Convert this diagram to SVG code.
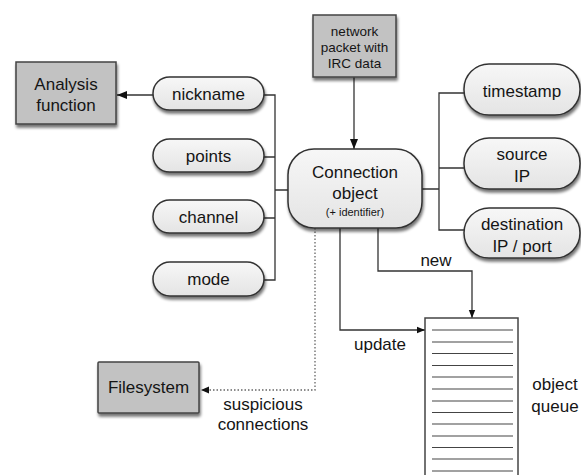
<svg xmlns="http://www.w3.org/2000/svg" width="581" height="475" viewBox="0 0 581 475">
<defs>
<linearGradient id="pillg" x1="0" y1="0" x2="0" y2="1">
<stop offset="0" stop-color="#f7f7f7"/>
<stop offset="1" stop-color="#e4e4e4"/>
</linearGradient>
<filter id="sh" x="-10%" y="-10%" width="130%" height="140%">
<feGaussianBlur in="SourceAlpha" stdDeviation="1.8"/>
<feOffset dx="1" dy="3" result="b"/>
<feComponentTransfer><feFuncA type="linear" slope="0.55"/></feComponentTransfer>
<feMerge><feMergeNode/><feMergeNode in="SourceGraphic"/></feMerge>
</filter>
<marker id="ah" viewBox="0 0 10 10" refX="10" refY="5" markerWidth="10" markerHeight="10" markerUnits="userSpaceOnUse" orient="auto">
<path d="M0,1 L10,5 L0,9 Z" fill="#111"/>
</marker>
<marker id="ahs" viewBox="0 0 10 10" refX="10" refY="5" markerWidth="8" markerHeight="8" markerUnits="userSpaceOnUse" orient="auto">
<path d="M0,1 L10,5 L0,9 Z" fill="#111"/>
</marker>
</defs>
<style>
text{font-family:"Liberation Sans",Arial,sans-serif;fill:#151515;text-anchor:middle}
.t{font-size:17px}
.s{font-size:13.5px}
.xs{font-size:11px}
.lbl{font-size:17px}
.pill{fill:url(#pillg);stroke:#333;stroke-width:1.5;filter:url(#sh)}
.box{fill:#c2c2c2;stroke:#444;stroke-width:1.5;filter:url(#sh)}
.ln{fill:none;stroke:#333;stroke-width:1.3}
.dot{fill:none;stroke:#666;stroke-width:1.3;stroke-dasharray:1.5 2}
.q{stroke:#444;stroke-width:1.2}
</style>
<rect width="581" height="475" fill="#fff"/>
<g id="connectors">
<path class="ln" d="M153,95 H117" marker-end="url(#ah)"/>
<path class="ln" d="M264,95 H275 V280 H264 M264,157 H275 M264,218 H275 M275,190 H288"/>
<path class="ln" d="M354,77 V149" marker-end="url(#ah)"/>
<path class="ln" d="M422,189 H439 M464,93 H439 V230 H464 M439,168 H464"/>
<path class="ln" d="M378,228 V271 H472 V318" marker-end="url(#ahs)"/>
<path class="ln" d="M340,228 V330 H425" marker-end="url(#ahs)"/>
<path class="dot" d="M315,228 V390 H201"/>
<path d="M201,390 L209,386.5 L209,393.5 Z" fill="#111"/>
</g>
<g id="analysis"><rect class="box" x="16" y="62" width="100" height="62"/><text class="t" x="66" y="90">Analysis</text><text class="t" x="66" y="111">function</text></g>
<g id="packet"><rect class="box" x="313" y="15" width="83" height="62"/><text class="s" x="354.5" y="36">network</text><text class="s" x="354.5" y="52">packet with</text><text class="s" x="354.5" y="68">IRC data</text></g>
<g id="nickname"><rect class="pill" x="153" y="77" width="111" height="33" rx="16.5"/><text class="t" x="208.5" y="100">nickname</text></g>
<g id="points"><rect class="pill" x="153" y="139" width="111" height="33" rx="16.5"/><text class="t" x="208.5" y="162">points</text></g>
<g id="channel"><rect class="pill" x="153" y="200" width="111" height="33" rx="16.5"/><text class="t" x="208.5" y="223">channel</text></g>
<g id="mode"><rect class="pill" x="153" y="262" width="111" height="34" rx="17"/><text class="t" x="208.5" y="285">mode</text></g>
<g id="connection"><rect class="pill" x="288" y="149" width="134" height="79" rx="26"/><text class="t" x="355" y="178">Connection</text><text class="t" x="355" y="199">object</text><text class="xs" x="355" y="216">(+ identifier)</text></g>
<g id="timestamp"><rect class="pill" x="464" y="64" width="116" height="51" rx="25"/><text class="t" x="522" y="97">timestamp</text></g>
<g id="source"><rect class="pill" x="464" y="138" width="116" height="51" rx="25"/><text class="t" x="522" y="160">source</text><text class="t" x="522" y="182">IP</text></g>
<g id="destination"><rect class="pill" x="464" y="208" width="116" height="50" rx="25"/><text class="t" x="522" y="230">destination</text><text class="t" x="522" y="252">IP / port</text></g>
<g id="filesystem"><rect class="box" x="98" y="362" width="101" height="51" rx="1"/><text class="t" x="148.5" y="393">Filesystem</text></g>
<g id="queue">
<rect x="425" y="318" width="93" height="170" fill="#fff" stroke="#444" stroke-width="1.5"/>
<path class="q" d="M432,330H513M432,342H513M432,353.5H513M432,365.5H513M432,377H513M432,389H513M432,401H513M432,412.5H513M432,424H513M432,436H513M432,447.5H513M432,459H513M432,471H513"/>
</g>
<g id="labels">
<text class="lbl" x="436" y="266">new</text>
<text class="lbl" x="380" y="350">update</text>
<text class="lbl" x="263" y="410">suspicious</text>
<text class="lbl" x="263" y="430">connections</text>
<text class="lbl" x="555" y="390">object</text>
<text class="lbl" x="555" y="412">queue</text>
</g>
</svg>
